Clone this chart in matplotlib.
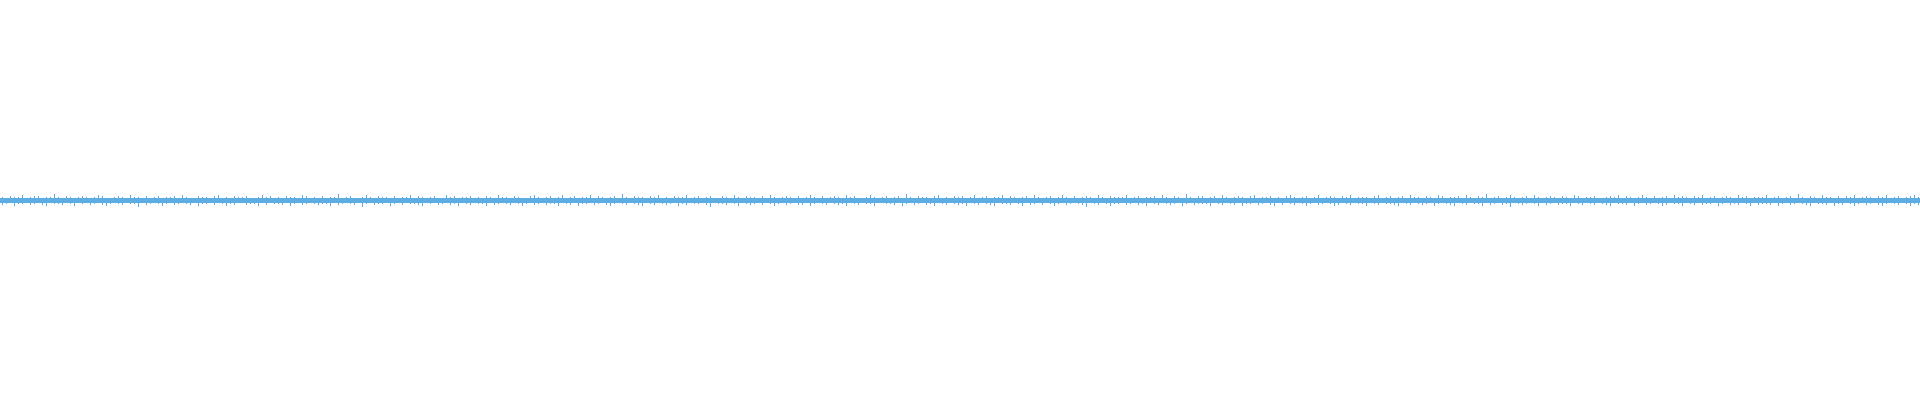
import numpy as np
import matplotlib
matplotlib.use('Agg')
import matplotlib.pyplot as plt

# waveform peaks (levels of 0.005 amplitude)
top_levels = [
    3,2,4,3,3,5,2,3,4,4,2,3,3,6,3,2,4,3,2,3,
    4,3,2,3,5,4,2,2,3,4,3,2,5,3,3,2,4,2,3,4,
    2,3,3,4,2,5,3,2,2,4,3,3,2,4,5,2,3,2,4,3,
    3,4,2,2,3,5,3,4,2,3,2,4,3,3,2,5,4,2,3,2,
    4,2,3,3,6,2,3,4,2,2,3,5,3,2,4,3,3,2,4,2,
    3,3,5,2,4,3,2,3,4,2,2,5,3,4,2,3,3,4,2,3,
    2,4,3,2,5,3,3,2,4,3,2,2,4,5,3,2,3,4,2,3,
    5,2,3,4,2,3,3,5,2,4,3,2,3,4,2,6,3,2,4,3,
    3,2,4,3,5,2,3,2,4,3,3,5,2,3,4,2,3,4,2,2,
    4,3,2,5,3,2,4,3,3,2,4,2,5,3,2,3,4,3,2,4,
    2,3,5,3,2,4,2,3,4,3,2,5,3,4,2,2,3,5,3,2,
    3,4,2,3,4,2,6,3,2,4,3,3,2,4,5,2,3,2,4,3,
    4,2,3,5,2,3,4,2,3,3,5,2,4,3,2,3,4,2,5,3,
    2,3,4,2,3,5,3,2,4,2,3,4,3,2,5,3,2,4,3,3,
    3,5,2,3,4,2,3,3,4,2,5,3,2,4,3,2,6,3,2,4,
    4,2,3,4,2,5,3,2,3,4,3,2,4,5,2,3,3,4,2,3,
    2,4,5,3,2,3,4,2,3,5,2,3,4,3,2,4,3,5,2,3,
    3,3,2,4,5,2,3,4,2,3,4,2,5,3,3,2,4,3,2,5,
    4,2,3,3,4,2,5,3,2,4,3,6,2,3,4,2,3,5,3,2,
    3,4,2,5,3,2,3,4,3,2,4,3,2,5,4,2,3,3,4,2,
    2,3,4,3,5,2,4,3,2,3,5,3,2,4,2,3,4,2,5,3,
    4,3,2,4,3,5,2,3,4,2,3,4,3,2,5,3,4,2,3,3,
    3,5,2,3,4,2,3,4,2,6,3,2,4,3,2,5,3,3,2,4,
    2,4,3,5,2,3,4,3,2,4,3,5,2,3,4,2,3,4,5,3,
]
bottom_levels = [
    4,3,2,5,3,3,2,4,3,2,4,5,2,3,3,4,2,3,5,2,
    3,2,4,3,2,4,5,3,2,3,4,2,3,3,6,2,4,3,2,3,
    5,3,2,4,3,2,3,4,2,5,3,3,2,4,2,3,5,3,4,2,
    2,4,3,3,5,2,4,2,3,3,4,2,5,3,2,4,3,2,3,4,
    3,3,5,2,4,3,2,3,4,2,6,3,2,4,3,3,2,5,3,2,
    4,2,3,3,4,5,2,3,2,4,3,2,4,3,5,2,3,4,2,3,
    3,5,2,4,3,2,3,4,2,3,5,3,2,4,3,2,4,3,3,5,
    2,3,4,2,5,3,3,2,4,3,2,4,5,3,2,3,4,2,3,4,
    5,2,3,4,2,3,4,3,2,5,3,4,2,3,3,2,4,6,2,3,
    3,4,2,3,5,2,3,4,3,2,4,2,3,5,3,2,4,3,2,4,
    4,2,5,3,2,3,4,2,3,4,3,5,2,3,4,2,3,3,5,2,
    2,3,3,4,2,5,3,2,4,3,2,4,3,5,2,3,4,2,3,4,
    3,5,2,3,4,2,3,4,5,2,3,3,4,2,3,5,2,4,3,2,
    4,2,3,5,3,2,4,3,2,3,4,6,2,3,4,2,3,5,3,3,
    2,4,3,2,4,3,5,2,3,4,2,3,4,3,2,5,3,2,4,3,
    3,3,5,2,3,4,2,3,4,2,5,3,3,2,4,3,2,4,5,2,
    4,2,3,4,2,3,5,3,2,4,3,2,3,5,4,2,3,4,2,3,
    3,5,2,3,4,2,3,3,4,5,2,3,4,2,3,4,3,2,5,3,
    2,3,4,5,2,3,4,2,3,3,5,2,4,3,2,4,3,6,2,3,
    4,3,2,3,5,2,4,3,2,4,3,3,5,2,3,4,2,3,4,2,
    3,4,5,2,3,3,4,2,5,3,2,4,3,2,3,5,4,2,3,3,
    5,2,3,4,2,4,3,3,2,5,3,2,4,3,4,2,3,5,2,4,
    3,3,4,2,5,3,2,4,3,2,3,4,5,2,3,3,4,2,5,3,
    4,2,3,5,3,2,4,3,2,4,5,3,2,3,4,2,3,5,3,4,
]
core_level = 2.5
level_step = 0.005

top = np.array(top_levels) * level_step
bottom = np.array(bottom_levels) * level_step
x = np.arange(len(top))
color = '#5dade2'

fig = plt.figure(figsize=(19.2, 4), dpi=100)
ax = fig.add_axes([0, 0, 1, 1])
ax.fill_between([-0.5, len(top) - 0.5], -core_level * level_step, core_level * level_step,
                color=color, linewidth=0, antialiased=False)
ax.vlines(x, -bottom, top, color=color, linewidth=0.72, antialiased=False)
ax.set_xlim(-0.5, len(top) - 0.5)
ax.set_ylim(-1, 1)
ax.axis('off')

plt.savefig('out.png', dpi=100, facecolor='white')
